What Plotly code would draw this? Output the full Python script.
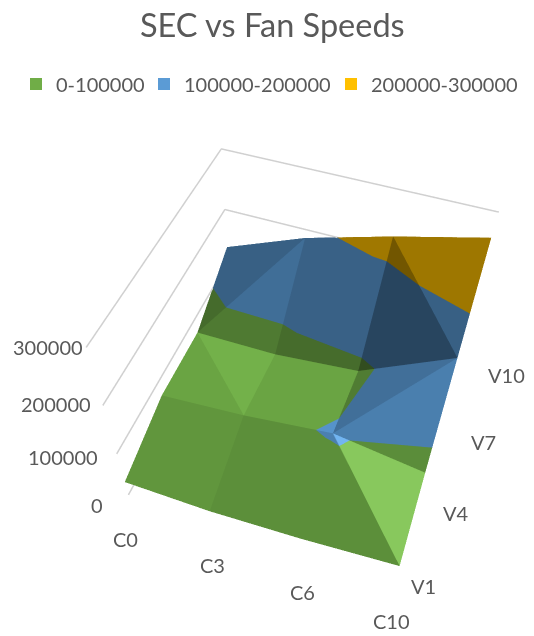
import plotly.graph_objects as go

x_categories = ["C0", "C3", "C6", "C10"]
y_series = ["V1", "V4", "V7", "V10"]
z_ticks = [0, 100000, 200000, 300000]
z_tick_labels = ["0", "100000", "200000", "300000"]
band_names = ["0-100000", "100000-200000", "200000-300000"]
band_limits = [(0, 100000), (100000, 200000), (200000, 300000)]
band_colors = [(112, 173, 71), (91, 155, 213), (255, 192, 0)]
# SEC values: one row per V series, one column per C category
sec_v1 = [33000, 35000, 47000, 65000]
sec_v4 = [68000, 82000, 104000, 82000]
sec_v7 = [68000, 70000, 86000, 165000]
sec_v10 = [130000, 185000, 225000, 260000]
sec_values = [sec_v1, sec_v4, sec_v7, sec_v10]

# facets of the surface: three (row, col) corners and a shade factor
facets = [
    ((0,0),(0,1),(1,1),.87), ((0,0),(1,1),(1,0),.87),
    ((0,1),(0,2),(1,2),.83), ((0,1),(1,2),(1,1),.83),
    ((0,2),(0,3),(1,2),.83), ((0,3),(1,3),(1,2),1.13),
    ((1,0),(1,1),(2,0),.95), ((1,1),(2,1),(2,0),1.02),
    ((1,1),(1,2),(2,2),.95), ((1,1),(2,2),(2,1),.95),
    ((1,2),(2,3),(2,2),.72), ((1,2),(1,3),(2,3),.82),
    ((2,0),(2,1),(3,1),.71), ((2,0),(3,1),(3,0),.62),
    ((2,1),(3,2),(3,1),.63), ((2,1),(2,2),(3,2),.63),
    ((2,2),(2,3),(3,2),.45), ((2,3),(3,3),(3,2),.62),
]

def clip(poly, lim, keep_above):
    out = []
    for a, b in zip(poly, poly[1:] + poly[:1]):
        ina = a[2] >= lim if keep_above else a[2] <= lim
        inb = b[2] >= lim if keep_above else b[2] <= lim
        if ina:
            out.append(a)
        if ina != inb:
            f = (lim - a[2]) / (b[2] - a[2])
            out.append(tuple(a[n] + f * (b[n] - a[n]) for n in range(3)))
    return out

def shaded(col, sh):
    m = max(0, (sh - 1) * 0.6)
    return "rgb(%d,%d,%d)" % tuple(min(255, int(ch * sh + (255 - ch * sh) * m)) for ch in col)

traces = []
for name, (lo, hi), col in zip(band_names, band_limits, band_colors):
    xs, ys, zz, ii, jj, kk, fc = [], [], [], [], [], [], []
    for a, b, c_, sh in facets:
        tri = [(q[1], q[0], sec_values[q[0]][q[1]]) for q in (a, b, c_)]
        poly = clip(tri, lo, True)
        poly = clip(poly, hi, False) if len(poly) >= 3 else []
        if len(poly) < 3:
            continue
        base = len(xs)
        for q in poly:
            xs.append(q[0]); ys.append(q[1]); zz.append(q[2])
        for n in range(1, len(poly) - 1):
            ii.append(base); jj.append(base + n); kk.append(base + n + 1)
            fc.append(shaded(col, sh))
    traces.append(go.Mesh3d(x=xs, y=ys, z=zz, i=ii, j=jj, k=kk, facecolor=fc, flatshading=True,
                            name=name, showlegend=False, hoverinfo="skip",
                            lighting=dict(ambient=1, diffuse=0, specular=0, fresnel=0, roughness=1)))

for zt in z_ticks:
    traces.append(go.Scatter3d(x=[0, 0, 3], y=[0, 3, 3], z=[zt, zt, zt], mode="lines",
                               line=dict(color="#d0d0d0", width=3), showlegend=False, hoverinfo="skip"))

legend_ids = ["legend", "legend2", "legend3"]
legend_left = [16, 144, 331]
for name, col, lid in zip(band_names, band_colors, legend_ids):
    traces.append(go.Scatter(x=[None], y=[None], mode="markers", name=name, legend=lid,
                             marker=dict(symbol="square", size=14, color="rgb(%d,%d,%d)" % col)))

fs = 20
txt = dict(size=fs, color="#595959")
z_shift = [(-23, -10), (-17, -3), (-10, 2), (-1, 1)]
c_shift = [(-3, -44), (1, -40), (3, -36), (-1, -32)]
v_shift = [(31, 3), (40, -7), (48, -9), (54, -5)]
anns = []
for zt, lab, (sx, sy) in zip(z_ticks, z_tick_labels, z_shift):
    anns.append(dict(x=0, y=0, z=zt, text=lab, showarrow=False, xanchor="right", xshift=sx, yshift=sy, font=txt))
for i, (lab, (sx, sy)) in enumerate(zip(x_categories, c_shift)):
    anns.append(dict(x=i, y=0, z=0, text=lab, showarrow=False, xshift=sx, yshift=sy, font=txt))
for i, (lab, (sx, sy)) in enumerate(zip(y_series, v_shift)):
    anns.append(dict(x=3, y=i, z=0, text=lab, showarrow=False, xshift=sx, yshift=sy, font=txt))

hidden = dict(visible=False, showgrid=False, showbackground=False, zeroline=False, showspikes=False)
fig = go.Figure(traces)
fig.update_layout(
    width=534, height=636, margin=dict(l=0, r=0, t=0, b=0), paper_bgcolor="white", plot_bgcolor="white",
    font=dict(family="Lato", color="#595959"),
    title=dict(text="SEC vs Fan Speeds", x=.51, xanchor="center", y=1 - 26 / 636, yanchor="middle",
               font=dict(size=32.5, color="#595959", family="Lato")),
    xaxis=dict(visible=False), yaxis=dict(visible=False),
    scene=dict(domain=dict(x=[0, 0.98], y=[0, 1]), aspectmode="manual",
               aspectratio=dict(x=6.0809, y=6.0219, z=5.2595),
               camera=dict(eye=dict(x=2.8509, y=-9.7052, z=12.936),
                           center=dict(x=-1.097, y=0.3564, z=0.5733),
                           up=dict(x=-0.263, y=0.7055, z=0.6581),
                           projection=dict(type="perspective")),
               xaxis=dict(range=[0, 3], **hidden), yaxis=dict(range=[0, 3], **hidden),
               zaxis=dict(range=[0, 300000], **hidden), annotations=anns))
for lid, left in zip(legend_ids, legend_left):
    fig.update_layout({lid: dict(orientation="h", x=left / 534, xanchor="left", y=1 - 84 / 636, yanchor="middle",
                                 font=dict(size=20, color="#595959"), itemsizing="constant",
                                 bgcolor="rgba(0,0,0,0)")})
fig.write_html("out.html", post_script="document.body.style.margin='0';", config=dict(displayModeBar=False))
